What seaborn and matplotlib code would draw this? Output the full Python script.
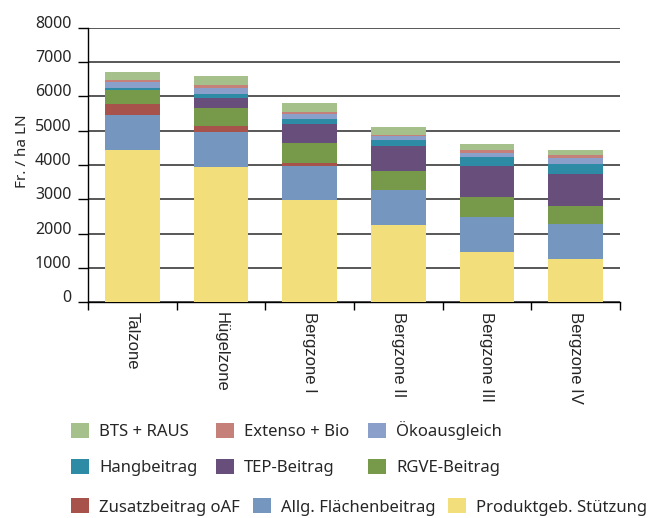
import matplotlib
matplotlib.use("Agg")
import matplotlib.pyplot as plt
import seaborn as sns
import numpy as np
import pandas as pd
from matplotlib.patches import Patch
from matplotlib.ticker import FixedLocator

# ---- data ----
categories = ["Talzone", "Hügelzone", "Bergzone I", "Bergzone II", "Bergzone III", "Bergzone IV"]
produkt = [4450, 3950, 2970, 2240, 1450, 1245]
allg = [1020, 1000, 1010, 1020, 1020, 1020]
zusatz = [320, 175, 65, 0, 0, 0]
rgve = [400, 525, 610, 555, 585, 525]
tep = [0, 320, 555, 730, 910, 960]
hang = [65, 115, 145, 175, 255, 265]
oeko = [175, 165, 145, 135, 120, 195]
extenso = [60, 97, 60, 20, 90, 95]
bts = [230, 260, 260, 220, 175, 145]

series_names = ["Produktgeb. Stützung", "Allg. Flächenbeitrag", "Zusatzbeitrag oAF",
                "RGVE-Beitrag", "TEP-Beitrag", "Hangbeitrag", "Ökoausgleich",
                "Extenso + Bio", "BTS + RAUS"]
series_vals = [produkt, allg, zusatz, rgve, tep, hang, oeko, extenso, bts]
colors = {
    "Produktgeb. Stützung": "#F2DE7B",
    "Allg. Flächenbeitrag": "#7596BE",
    "Zusatzbeitrag oAF": "#A8524C",
    "RGVE-Beitrag": "#77994A",
    "TEP-Beitrag": "#674E7B",
    "Hangbeitrag": "#2E8BA6",
    "Ökoausgleich": "#8AA0CB",
    "Extenso + Bio": "#C5807A",
    "BTS + RAUS": "#A5C08A",
}

sns.set_theme(style="white")
plt.rcParams['font.family'] = ['Noto Sans', 'DejaVu Sans']

fig = plt.figure(figsize=(6.51, 5.18), dpi=100)
ax = fig.add_axes([88/651, 1-302/518, (620-88)/651, (302-28)/518])

cum = np.zeros(len(categories))
cums = []
for v in series_vals:
    cum = cum + np.array(v, dtype=float)
    cums.append(cum.copy())

for name, c in reversed(list(zip(series_names, cums))):
    df = pd.DataFrame({"zone": categories, "value": c})
    sns.barplot(data=df, x="zone", y="value", color=colors[name], saturation=1,
                width=0.62, order=categories, linewidth=0, ax=ax, zorder=3)

ax.set_xlim(-0.5, 5.5)
ax.set_ylim(0, 8000)
ax.set_yticks(range(0, 8001, 1000))
ax.yaxis.grid(True, color="#2a2a2a", lw=1.1, zorder=0)
ax.xaxis.grid(False)
ax.set_axisbelow(True)
for s in ["top", "right"]:
    ax.spines[s].set_visible(False)
for s in ["left", "bottom"]:
    ax.spines[s].set_color("black")
    ax.spines[s].set_linewidth(1.0)

ax.tick_params(axis="y", left=True, length=7, width=1, color="black", pad=5, labelsize=11.5)
for lab in ax.get_yticklabels():
    lab.set_va("baseline")

ax.xaxis.set_minor_locator(FixedLocator(np.arange(-0.5, 6, 1)))
ax.tick_params(axis="x", which="minor", bottom=True, length=6, width=1, color="black")
ax.tick_params(axis="x", which="major", bottom=True, length=0, pad=7)
ax.set_xticks(range(len(categories)))
ax.set_xticklabels(categories, rotation=270, ha="center", va="top",
                   fontsize=12, family=["Liberation Sans", "DejaVu Sans"])
ax.set_xlabel("")
ax.set_ylabel("")

fig.text(23/651, 1-151/518, "Fr. / ha LN", rotation=90, ha="center", va="center", fontsize=11)

# rows 1-2 share aligned columns (filled column-wise)
top_names = ["BTS + RAUS", "Hangbeitrag", "Extenso + Bio", "TEP-Beitrag",
             "Ökoausgleich", "RGVE-Beitrag"]
handles = [Patch(facecolor=colors[n], edgecolor="none") for n in top_names]
fig.legend(handles, top_names, loc="center left", bbox_to_anchor=(71/651, 1-448.5/518),
           ncol=3, frameon=False, fontsize=12, handlelength=1.1, handleheight=1.0,
           handletextpad=0.6, columnspacing=1.1, labelspacing=1.15,
           borderpad=0, borderaxespad=0)

bot_names = ["Zusatzbeitrag oAF", "Allg. Flächenbeitrag", "Produktgeb. Stützung"]
handles = [Patch(facecolor=colors[n], edgecolor="none") for n in bot_names]
fig.legend(handles, bot_names, loc="center left", bbox_to_anchor=(71/651, 1-507/518),
           ncol=3, frameon=False, fontsize=12, handlelength=1.1, handleheight=1.0,
           handletextpad=0.6, columnspacing=0.75, borderpad=0, borderaxespad=0)

fig.savefig("out.png", dpi=100)
